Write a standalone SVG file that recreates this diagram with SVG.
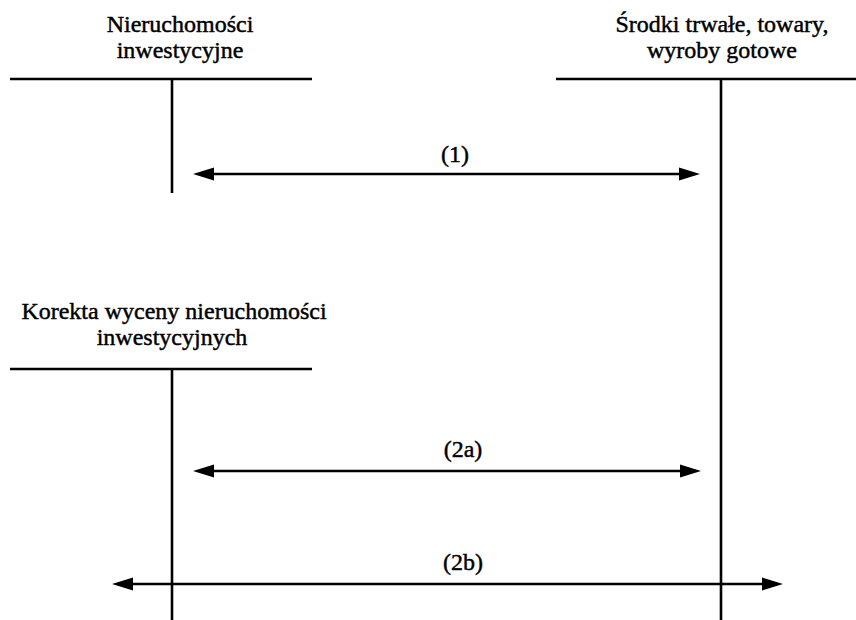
<svg xmlns="http://www.w3.org/2000/svg" width="856" height="620" viewBox="0 0 856 620">
  <style>
    .ln { stroke: #000; stroke-width: 2.6; fill: none; }
    .tx { font-family: "Liberation Serif", "Times New Roman", serif; font-size: 24px; fill: #000; stroke: #000; stroke-width: 0.45; text-anchor: middle; }
    .ar { stroke: #000; stroke-width: 2.6; fill: none; marker-start: url(#ah); marker-end: url(#ah); }
  </style>
  <defs>
    <marker id="ah" markerUnits="userSpaceOnUse" markerWidth="22" markerHeight="14" refX="0" refY="6.5" orient="auto-start-reverse" overflow="visible">
      <path d="M0,0 L21,6.5 L0,13 z" fill="#000"/>
    </marker>
  </defs>
  <rect width="856" height="620" fill="#fff"/>

  <g id="nieruchomosci">
    <text class="tx" x="180" y="32">Nieruchomości</text>
    <text class="tx" x="180" y="58">inwestycyjne</text>
    <line class="ln" x1="10" y1="79" x2="312" y2="79"/>
    <line class="ln" x1="172" y1="79" x2="172" y2="193"/>
  </g>

  <g id="srodki">
    <text class="tx" x="722" y="32">Środki trwałe, towary,</text>
    <text class="tx" x="722" y="58">wyroby gotowe</text>
    <line class="ln" x1="556" y1="79" x2="856" y2="79"/>
    <line class="ln" x1="721" y1="79" x2="721" y2="620"/>
  </g>

  <g id="korekta">
    <text class="tx" x="174" y="319">Korekta wyceny nieruchomości</text>
    <text class="tx" x="172" y="345">inwestycyjnych</text>
    <line class="ln" x1="10" y1="369" x2="312" y2="369"/>
    <line class="ln" x1="172" y1="369" x2="172" y2="620"/>
  </g>

  <g id="connectors">
    <line class="ar" x1="214" y1="174" x2="679" y2="174"/>
    <text class="tx" x="455" y="162">(1)</text>
    <line class="ar" x1="214" y1="471" x2="680" y2="471"/>
    <text class="tx" x="463" y="457">(2a)</text>
    <line class="ar" x1="133" y1="584" x2="762" y2="584"/>
    <text class="tx" x="463" y="570">(2b)</text>
  </g>
</svg>
